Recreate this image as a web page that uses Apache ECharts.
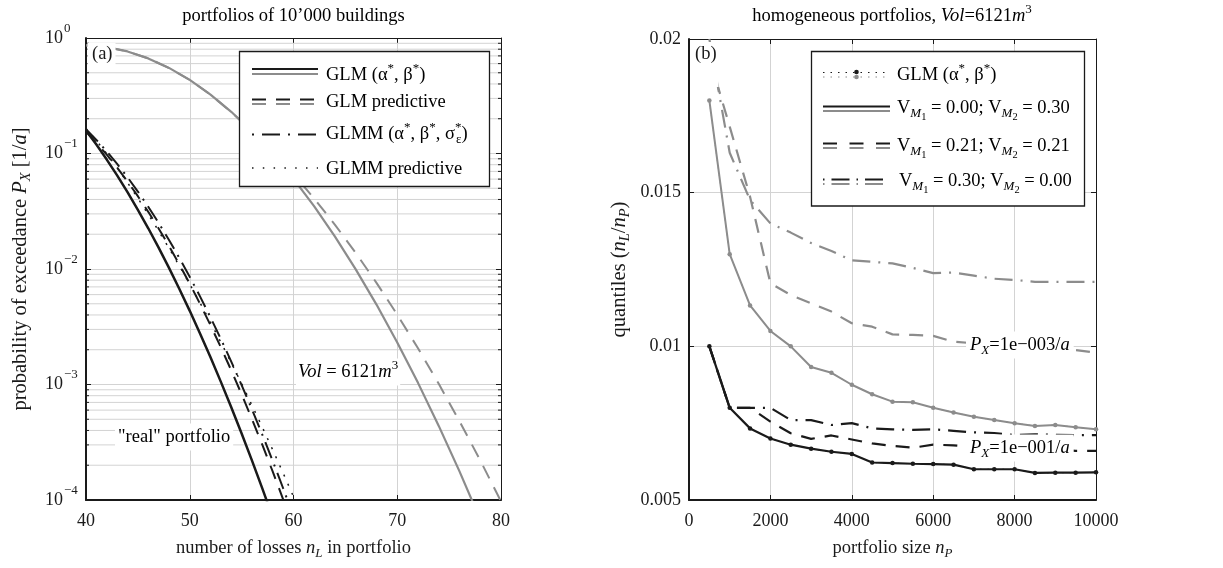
<!DOCTYPE html>
<html>
<head>
<meta charset="utf-8">
<script src="https://cdn.jsdelivr.net/npm/echarts@6/dist/echarts.min.js"></script>
<style>
  html, body { margin: 0; padding: 0; background: #fff; }
  #chart { width: 1223px; height: 568px; }
</style>
</head>
<body>
<div id="chart"></div>
<script>
// ---------- (a) exceedance probability vs. number of losses ----------
const lossCountsVol = [40, 42, 44, 46, 48, 50, 52, 54, 56, 58, 60, 62, 64, 66, 68, 70, 72, 74, 76, 78, 80];
const volGLM = [0.864, 0.834, 0.765, 0.666, 0.551, 0.434, 0.324, 0.2296, 0.1545, 0.0989, 0.0602,
  0.0348, 0.01906, 0.00993, 0.00492, 0.00231, 0.001033, 0.000438, 0.0001768, 0.0000677, 0.0000246];
const volPredictive = [0.864, 0.834, 0.765, 0.666, 0.551, 0.434, 0.324, 0.2286, 0.157, 0.1039, 0.0663,
  0.04074, 0.02414, 0.01379, 0.00759, 0.004025, 0.002058, 0.001014, 0.0004814, 0.0002203, 0.0000971];

const lossCountsReal = [40, 41, 42, 43, 44, 45, 46, 47, 48, 49, 50, 51, 52, 53, 54, 55, 56, 57, 58, 59, 60, 61];
const realGLM = [0.1585, 0.1196, 0.0886, 0.0646, 0.04623, 0.03254, 0.02252, 0.01531, 0.01023, 0.00672, 0.004342,
  0.002756, 0.001719, 0.001054, 0.0006355, 0.0003765, 0.0002193, 0.0001255, 0.0000706, 0.000039, 0.000021, 0.0000113];
const realPredictive = [0.1549, 0.1242, 0.0977, 0.0755, 0.0573, 0.0427, 0.03125, 0.02244, 0.01582, 0.01096, 0.007451,
  0.004973, 0.003259, 0.002098, 0.001326, 0.000822, 0.0005006, 0.0002995, 0.0001758, 0.0001014, 0.0000574, 0.0000319];
const realGLMM = [0.1622, 0.1312, 0.1042, 0.0813, 0.06228, 0.04683, 0.03458, 0.02506, 0.01784, 0.01246, 0.00855,
  0.005764, 0.003813, 0.002475, 0.001579, 0.000988, 0.0006075, 0.0003667, 0.0002173, 0.0001264, 0.0000722, 0.0000406];
const realGLMMPredictive = [0.165, 0.1295, 0.0995, 0.07543, 0.05593, 0.041, 0.02974, 0.02134, 0.01515, 0.01063, 0.00739,
  0.005074, 0.00345, 0.00232, 0.001544, 0.001016, 0.000661, 0.000426, 0.0002713, 0.000171, 0.0001067, 0.0000658];

// minor grid levels of the logarithmic probability axis
const logMinorLevels = [
  2e-4, 3e-4, 4e-4, 5e-4, 6e-4, 7e-4, 8e-4, 9e-4,
  2e-3, 3e-3, 4e-3, 5e-3, 6e-3, 7e-3, 8e-3, 9e-3,
  2e-2, 3e-2, 4e-2, 5e-2, 6e-2, 7e-2, 8e-2, 9e-2,
  0.2, 0.3, 0.4, 0.5, 0.6, 0.7, 0.8, 0.9
];

// ---------- (b) quantiles vs. portfolio size ----------
const portfolioSizes = [500, 1000, 1500, 2000, 2500, 3000, 3500, 4000, 4500, 5000,
  5500, 6000, 6500, 7000, 7500, 8000, 8500, 9000, 9500, 10000];
// P_X = 1e-3 / a (grey)
const q3Vm0 = [0.0180, 0.0130, 0.01133, 0.0105, 0.0100, 0.00933, 0.00914, 0.00875, 0.00844, 0.0082,
  0.00818, 0.0080, 0.00785, 0.00771, 0.0076, 0.0075, 0.00741, 0.00744, 0.00737, 0.0073];
const q3Vm21 = [0.0194, 0.01715, 0.01487, 0.01205, 0.01167, 0.0114, 0.01113, 0.01075, 0.01064, 0.01039,
  0.01037, 0.01034, 0.01015, 0.0101, 0.01005, 0.0100, 0.00995, 0.00992, 0.00988, 0.00979];
const q3Vm30 = [0.0200, 0.0163, 0.01476, 0.0140, 0.0137, 0.01336, 0.0131, 0.0128, 0.01275, 0.0127,
  0.01255, 0.01238, 0.0124, 0.0123, 0.0122, 0.01216, 0.0121, 0.0121, 0.0121, 0.0121];
// P_X = 1e-1 / a (black)
const q1Vm0 = [0.0100, 0.0080, 0.00733, 0.0070, 0.0068, 0.00667, 0.00657, 0.0065, 0.00622, 0.0062,
  0.00618, 0.00617, 0.00615, 0.0060, 0.0060, 0.0060, 0.00588, 0.00589, 0.00589, 0.0059];
const q1Vm21 = [0.0100, 0.0080, 0.0080, 0.00755, 0.00717, 0.00699, 0.0071, 0.00697, 0.00684, 0.00676,
  0.0067, 0.0068, 0.00678, 0.00672, 0.0067, 0.00668, 0.00665, 0.00665, 0.0066, 0.0066];
const q1Vm30 = [0.0100, 0.0080, 0.0080, 0.0080, 0.0076, 0.0076, 0.00744, 0.0075, 0.00733, 0.0073,
  0.00728, 0.0073, 0.00725, 0.0072, 0.00718, 0.00711, 0.00714, 0.00712, 0.00711, 0.00711];

// ---------- styling ----------
const SERIF = '"Liberation Serif", "Times New Roman", "DejaVu Serif", serif';
const BLACK = '#1a1a1a';
const GREY = '#8c8c8c';
const GREY_TEXT = '#9a9a9a';
const GRID_C = '#d3d3d3';
const DASH = [14, 10];
const DASHDOT = [17, 7, 2, 7];
const DOT = [2, 8];

// rich-text styles: n normal, i italic, sub/sup, ssub second-level subscript
function rich(size, color, lh) {
  lh = lh || Math.round(size * 1.45);
  const c = lh / 2;
  const s = Math.round(size * 0.7 * 10) / 10;
  const ss = Math.round(size * 0.56 * 10) / 10;
  const f = { fontFamily: SERIF, color: color };
  return {
    n: Object.assign({ fontSize: size, lineHeight: lh }, f),
    i: Object.assign({ fontSize: size, lineHeight: lh, fontStyle: 'italic' }, f),
    sub: Object.assign({ fontSize: s, fontStyle: 'italic', verticalAlign: 'top', lineHeight: 1,
      padding: [c + size * 0.28 - s / 2, 0, 0, 0] }, f),
    subr: Object.assign({ fontSize: s, verticalAlign: 'top', lineHeight: 1,
      padding: [c + size * 0.28 - s / 2, 0, 0, 0] }, f),
    sup: Object.assign({ fontSize: s, verticalAlign: 'top', lineHeight: 1,
      padding: [Math.max(0, c - size * 0.36 - s / 2), 0, 0, 0] }, f),
    sup0: Object.assign({ fontSize: s, verticalAlign: 'top', lineHeight: 1, width: 1,
      padding: [Math.max(0, c - size * 0.36 - s / 2), 0, 0, 0] }, f),
    ssub: Object.assign({ fontSize: ss, verticalAlign: 'top', lineHeight: 1,
      padding: [c + size * 0.5 - ss / 2, 0, 0, 0] }, f)
  };
}

function xy(xs, ys) { return xs.map((x, i) => [x, ys[i]]); }

function logLine(name, xs, ys, color, width, dash, z) {
  return {
    type: 'line', name: name, xAxisIndex: 0, yAxisIndex: 0, data: xy(xs, ys),
    symbol: 'none', showSymbol: false, silent: true, animation: false, clip: true, z: z || 2,
    lineStyle: { color: color, width: width, type: dash || 'solid', cap: 'butt' }
  };
}

function quantLine(name, ys, color, width, dash, marker, z) {
  return {
    type: 'line', name: name, xAxisIndex: 2, yAxisIndex: 2, data: xy(portfolioSizes, ys),
    symbol: marker ? 'circle' : 'none', showSymbol: !!marker, symbolSize: 4.5,
    itemStyle: { color: color }, silent: true, animation: false, clip: true, z: z || 2,
    lineStyle: { color: color, width: width, type: dash || 'solid', cap: 'butt' }
  };
}

const tickStyle = { show: true, inside: true, length: 5, lineStyle: { color: BLACK, width: 1 } };
const gridSplit = { show: true, showMinLine: false, showMaxLine: false, lineStyle: { color: GRID_C, width: 1 } };
const labelFont = { fontFamily: SERIF, fontSize: 18, color: BLACK };

function frameAxis(extra) {
  return Object.assign({
    axisLine: { show: true, onZero: false, lineStyle: { color: BLACK, width: 1 } },
    axisTick: tickStyle, axisLabel: { show: false }, splitLine: { show: false }
  }, extra);
}

// ---------- graphic helpers (legends, labels) ----------
function seg(x1, x2, y, color, width, dash, offset) {
  return { type: 'line', z: 11, silent: true, shape: { x1: x1, y1: y, x2: x2, y2: y },
    style: { stroke: color, lineWidth: width, lineDash: dash || null, lineDashOffset: offset || 0 } };
}
function txt(x, y, text, size, color, extra) {
  const st = Object.assign({ x: x, y: y, text: text, rich: rich(size, color),
    align: 'left', verticalAlign: 'middle', textAlign: 'left', textVerticalAlign: 'middle' }, extra || {});
  return { type: 'text', z: 11, silent: true, style: st };
}
function dot(cx, cy, color) {
  return { type: 'circle', z: 12, silent: true, shape: { cx: cx, cy: cy, r: 2.3 }, style: { fill: color } };
}

const LX1 = 252, LX2 = 318, LT = 326;   // left legend sample/text columns
const RX1 = 823, RX2 = 890, RT = 897;   // right legend sample/text columns
const FS = 18.5;
const FS_Y = 20.5;

const graphics = [
  // panel titles
  txt(293.5, 16, '{n|portfolios of 10’000 buildings}', FS, BLACK, { align: 'center', textAlign: 'center' }),
  txt(892, 16, '{n|homogeneous portfolios, }{i|Vol}{n|=6121}{i|m}{sup|3}', FS, BLACK, { align: 'center', textAlign: 'center' }),

  // panel tags
  { type: 'text', z: 5, silent: true, style: { x: 87.5, y: 43, text: '(a)', font: FS + 'px ' + SERIF, fill: BLACK,
      backgroundColor: '#fff', padding: [2, 3, 3, 4.5], align: 'left', verticalAlign: 'top', textAlign: 'left', textVerticalAlign: 'top' } },
  { type: 'text', z: 5, silent: true, style: { x: 692, y: 42, text: '(b)', font: FS + 'px ' + SERIF, fill: BLACK,
      backgroundColor: '#fff', padding: [3, 2, 23, 3], align: 'left', verticalAlign: 'top', textAlign: 'left', textVerticalAlign: 'top' } },

  // in-plot annotations
  txt(296, 372, '{i|Vol}{n| = 6121}{i|m}{sup|3}', FS, GREY_TEXT, { backgroundColor: '#fff', padding: [0, 2, 0, 2] }),
  txt(115, 437, '{n|"real" portfolio}', FS, BLACK, { backgroundColor: '#fff', padding: [0, 3, 0, 3] }),
  txt(966, 345, '{i|P}{sub|X}{n|=1e−003/}{i|a}', FS, GREY_TEXT, { backgroundColor: '#fff', padding: [0, 4, 0, 4] }),
  txt(966, 448, '{i|P}{sub|X}{n|=1e−001/}{i|a}', FS, BLACK, { backgroundColor: '#fff', padding: [0, 4, 0, 4] }),

  // legend (a)
  { type: 'rect', z: 10, silent: true, shape: { x: 239.5, y: 51.5, width: 250, height: 135 },
    style: { fill: '#fff', stroke: BLACK, lineWidth: 1.3 } },
  seg(LX1, LX2, 69, BLACK, 2), seg(LX1, LX2, 74, GREY, 2),
  txt(LT, 75, '{n|GLM (α}{sup|*}{n|, β}{sup|*}{n|)}', FS, BLACK),
  seg(LX1, LX2, 99.5, BLACK, 2, DASH), seg(LX1, LX2, 104, GREY, 2, DASH),
  txt(LT, 102.5, '{n|GLM predictive}', FS, BLACK),
  seg(LX1, LX2, 134.5, BLACK, 2, [2, 8, 18, 8]),
  txt(LT, 134.5, '{n|GLMM (α}{sup|*}{n|, β}{sup|*}{n|, σ}{sup0|*}{subr|ε}{n|)}', FS, BLACK),
  seg(LX1, LX2, 168, BLACK, 1.5, [1.5, 9.3]),
  txt(LT, 169, '{n|GLMM predictive}', FS, BLACK),

  // legend (b)
  { type: 'rect', z: 10, silent: true, shape: { x: 811.5, y: 51.5, width: 273, height: 154.5 },
    style: { fill: '#fff', stroke: BLACK, lineWidth: 1.3 } },
  seg(RX1, RX2, 72.5, BLACK, 1, [1.5, 6]), seg(RX1, RX2, 77, GREY, 1, [1.5, 6]),
  dot(856.5, 72, BLACK), dot(856.5, 77, GREY),
  txt(RT, 75, '{n|GLM (α}{sup|*}{n|, β}{sup|*}{n|)}', FS, BLACK),
  seg(RX1, RX2, 106.5, BLACK, 2), seg(RX1, RX2, 111, GREY, 2),
  txt(RT, 108.5, '{n|V}{sub|M}{ssub|1}{n| = 0.00; V}{sub|M}{ssub|2}{n| = 0.30}', FS, BLACK),
  seg(RX1, RX2, 143.5, BLACK, 2, [14, 12.5]), seg(RX1, RX2, 148, GREY, 2, [14, 12.5]),
  txt(RT, 146.5, '{n|V}{sub|M}{ssub|1}{n| = 0.21; V}{sub|M}{ssub|2}{n| = 0.21}', FS, BLACK),
  seg(RX1, RX2, 179.5, BLACK, 2, [1.5, 7, 18, 7]), seg(RX1, RX2, 184, GREY, 2, [1.5, 7, 18, 7]),
  txt(RT + 2, 181.5, '{n|V}{sub|M}{ssub|1}{n| = 0.30; V}{sub|M}{ssub|2}{n| = 0.00}', FS, BLACK)
];

const nameRich = rich(FS, BLACK);
const nameRichY = rich(FS_Y, BLACK);

const option = {
  backgroundColor: '#fff',
  animation: false,
  grid: [
    { left: 86, top: 38, width: 415, height: 462, containLabel: false },
    { left: 689, top: 39, width: 407, height: 461, containLabel: false }
  ],
  xAxis: [
    { // (a) bottom
      type: 'value', gridIndex: 0, position: 'bottom', min: 40, max: 80, interval: 10,
      axisLine: { show: true, onZero: false, lineStyle: { color: BLACK, width: 2 } },
      axisTick: tickStyle, splitLine: gridSplit,
      axisLabel: Object.assign({ margin: 12 }, labelFont),
      name: '{n|number of losses }{i|n}{sub|L}{n| in portfolio}', nameLocation: 'middle', nameGap: 34,
      nameTextStyle: { rich: nameRich }
    },
    frameAxis({ type: 'value', gridIndex: 0, position: 'top', min: 40, max: 80, interval: 10 }),
    { // (b) bottom
      type: 'value', gridIndex: 1, position: 'bottom', min: 0, max: 10000, interval: 2000,
      axisLine: { show: true, onZero: false, lineStyle: { color: BLACK, width: 2 } },
      axisTick: tickStyle, splitLine: gridSplit,
      axisLabel: Object.assign({ margin: 12, formatter: v => String(v) }, labelFont),
      name: '{n|portfolio size }{i|n}{sub|P}', nameLocation: 'middle', nameGap: 34,
      nameTextStyle: { rich: nameRich }
    },
    frameAxis({ type: 'value', gridIndex: 1, position: 'top', min: 0, max: 10000, interval: 2000 })
  ],
  yAxis: [
    { // (a) left, logarithmic
      type: 'log', logBase: 10, gridIndex: 0, position: 'left', min: 1e-4, max: 1,
      axisLine: { show: true, onZero: false, lineStyle: { color: BLACK, width: 2 } },
      axisTick: tickStyle, splitLine: gridSplit,
      axisLabel: {
        align: 'left', margin: 41,
        formatter: v => {
          const e = Math.round(Math.log10(v));
          return '{b|10}{e|' + (e === 0 ? '0' : '−' + (-e)) + '}';
        },
        rich: {
          b: { fontFamily: SERIF, fontSize: 18, color: BLACK, lineHeight: 34 },
          e: { fontFamily: SERIF, fontSize: 13, color: BLACK, verticalAlign: 'top', lineHeight: 1, padding: [1, 0, 0, 1] }
        }
      },
      name: '{n|probability of exceedance }{i|P}{sub|X}{n| [1/}{i|a}{n|]}', nameLocation: 'middle', nameGap: 50,
      nameTextStyle: { rich: nameRichY }
    },
    frameAxis({ type: 'log', logBase: 10, gridIndex: 0, position: 'right', min: 1e-4, max: 1 }),
    { // (b) left
      type: 'value', gridIndex: 1, position: 'left', min: 0.005, max: 0.02, interval: 0.005,
      axisLine: { show: true, onZero: false, lineStyle: { color: BLACK, width: 2 } },
      axisTick: tickStyle, splitLine: gridSplit,
      axisLabel: Object.assign({ margin: 8 }, labelFont),
      name: '{n|quantiles (}{i|n}{sub|L}{n|/}{i|n}{sub|P}{n|)}', nameLocation: 'middle', nameGap: 54,
      nameTextStyle: { rich: nameRichY }
    },
    frameAxis({ type: 'value', gridIndex: 1, position: 'right', min: 0.005, max: 0.02, interval: 0.005 })
  ],
  graphic: { elements: graphics },
  series: [
    // minor log grid lines and the small edge ticks that go with them
    {
      type: 'custom', xAxisIndex: 0, yAxisIndex: 0, z: 1, silent: true, animation: false,
      data: logMinorLevels.map(v => [40, v]),
      encode: { x: 0, y: 1 },
      renderItem: (params, api) => {
        const v = api.value(1);
        const a = api.coord([40, v]);
        const b = api.coord([80, v]);
        return {
          type: 'group', children: [
            { type: 'line', shape: { x1: a[0] + 1, y1: a[1], x2: b[0] - 1, y2: b[1] }, style: { stroke: GRID_C, lineWidth: 1 } },
            { type: 'line', shape: { x1: a[0], y1: a[1], x2: a[0] + 3, y2: a[1] }, style: { stroke: BLACK, lineWidth: 1 } },
            { type: 'line', shape: { x1: b[0] - 3, y1: b[1], x2: b[0], y2: b[1] }, style: { stroke: BLACK, lineWidth: 1 } }
          ]
        };
      }
    },
    logLine('GLM predictive (Vol)', lossCountsVol, volPredictive, GREY, 2, DASH),
    logLine('GLM (Vol)', lossCountsVol, volGLM, GREY, 2.2),
    logLine('GLMM predictive', lossCountsReal, realGLMMPredictive, BLACK, 1.5, DOT),
    logLine('GLMM', lossCountsReal, realGLMM, BLACK, 2, DASHDOT),
    logLine('GLM predictive', lossCountsReal, realPredictive, BLACK, 2, DASH),
    logLine('GLM', lossCountsReal, realGLM, BLACK, 2.5),

    quantLine('V 0.30/0.00, 1e-3', q3Vm30, GREY, 2.2, [18, 8, 2, 8]),
    quantLine('V 0.21/0.21, 1e-3', q3Vm21, GREY, 2.2, DASH),
    quantLine('V 0.00/0.30, 1e-3', q3Vm0, GREY, 2),
    quantLine('GLM, 1e-3', q3Vm0, GREY, 1, [1.5, 6], true, 3),
    quantLine('V 0.30/0.00, 1e-1', q1Vm30, BLACK, 2.2, [18, 8, 2, 8]),
    quantLine('V 0.21/0.21, 1e-1', q1Vm21, BLACK, 2.2, DASH),
    quantLine('V 0.00/0.30, 1e-1', q1Vm0, BLACK, 2.2),
    quantLine('GLM, 1e-1', q1Vm0, BLACK, 1, [1.5, 6], true, 3)
  ]
};

const chart = echarts.init(document.getElementById('chart'));
chart.setOption(option);
</script>
</body>
</html>
